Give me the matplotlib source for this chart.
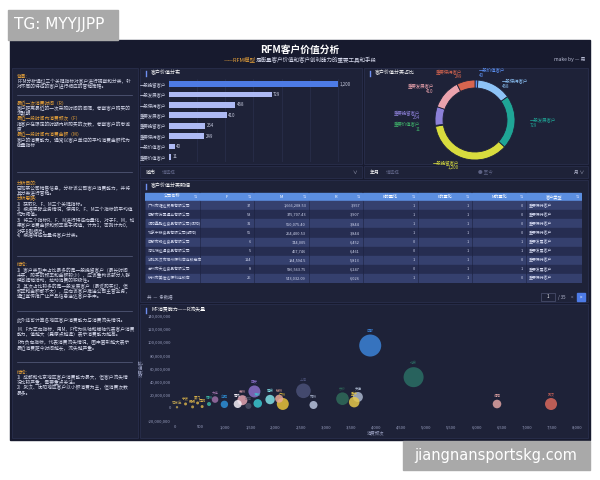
import math
import matplotlib
matplotlib.use('Agg')
import matplotlib.pyplot as plt
from matplotlib.patches import Rectangle
from matplotlib.ticker import FuncFormatter, MultipleLocator

plt.rcParams['font.family'] = ['Noto Sans CJK SC', 'DejaVu Sans']

# ---- data ----
bar_names = ['一般挽留客户', '一般发展客户', '一般保持客户', '重要发展客户',
             '重要挽留客户', '重要保持客户', '一般价值客户', '重要价值客户']
bar_values = [1200, 729, 468, 410, 254, 249, 40, 11]

pie_order = ['一般价值客户', '一般保持客户', '一般发展客户', '一般挽留客户',
             '重要价值客户', '重要挽留客户', '重要发展客户', '重要保持客户']

table_cols = ['公司名称', 'F', 'M', 'R', 'R的量化', 'F的量化', 'M的量化', '客户类型']
companies = ['广州市耀达贸易有限公司', '成都市万国通业有限公司', '沈阳鑫鹏达食品有限公司(沈阳)',
             '北京中粮食品有限公司(朝阳)', '成都市畅达食品有限公司', '河北瑞达通食品有限公司',
             '湖北武汉市神州便利店连锁商店', '台州市天达食品有限公司', '杭州市美佳达便利连锁店']
col_f = ['37', '53', '31', '55', '6', '5', '114', '8', '26']
col_m = ['1,666,208.53', '375,707.43', '550,075.40', '264,400.53', '744,005',
         '467,746', '194,594.5', '586,563.75', '543,032.09']
col_r = ['3,957', '3,907', '3,844', '3,844', '6,452', '6,461', '5,813', '6,247', '6,026']
col_rq = ['1', '1', '1', '1', '0', '0', '1', '0', '1']
col_fq = ['1', '1', '1', '1', '1', '1', '1', '1', '1']
col_mq = ['0', '0', '0', '0', '1', '1', '0', '1', '0']
col_type = ['重要保持客户', '重要保持客户', '重要保持客户', '重要保持客户', '重要发展客户',
            '重要发展客户', '重要保持客户', '重要发展客户', '重要保持客户']

cities = ['成都', '北京', '上海', '沈阳', '武汉', '长沙', '天津', '重庆', '郑州', '广州',
          '杭州', '南京', '深圳', '西安', '苏州', '青岛', '济南', '合肥', '大连', '福州',
          '厦门', '昆明', '无锡', '宁波', '石家庄']
freq = [3885, 4748, 2556, 6408, 7483, 3333, 3639, 3566, 2756, 2145, 2072, 1892, 1647,
        1580, 1341, 1248, 1461, 983, 797, 677, 450, 540, 350, 210, 40]
amount = [95.0, 46.8, 26.0, 5.9, 5.9, 14.0, 16.6, 8.8, 4.4, 6.0, 14.0, 12.7, 6.8,
          25.0, 11.7, 5.9, 2.9, 5.4, 12.7, 5.9, 7.5, 2.0, 1.5, 6.0, 1.0]  # 百万
recency = [6050, 5000, 2660, 920, 1800, 1980, 1250, 1400, 800, 1800, 800, 1100, 920,
           1800, 1250, 800, 450, 680, 540, 200, 110, 110, 110, 110, 70]

W, H = 600, 480
BG = '#171a2e'
PANEL = '#1e2238'
EDGE = '#2c3150'
TXT = '#d6d9ec'
ORANGE = '#e8a23a'


def P(x, y, w, h):
    return [x / W, 1 - (y + h) / H, w / W, h / H]


def wrap(s, width=24.5):
    lines, cur, n = [], '', 0
    for ch in s:
        w = 1 if ord(ch) > 0x2e80 else 0.55
        if n + w > width:
            lines.append(cur)
            cur, n = '', 0
        cur += ch
        n += w
    if cur:
        lines.append(cur)
    return lines


fig = plt.figure(figsize=(6, 4.8), dpi=100, facecolor='white')
bg = fig.add_axes([0, 0, 1, 1])
bg.set_xlim(0, W)
bg.set_ylim(H, 0)
bg.axis('off')

# dashboard frame and panels
bg.add_patch(Rectangle((10, 40), 580, 400, color=BG))
for x, y, w, h in [(12, 68, 126, 370), (140, 68, 222, 96), (364, 68, 224, 96),
                   (140, 166, 222, 12), (364, 166, 224, 12), (140, 180, 448, 122),
                   (140, 304, 448, 134)]:
    bg.add_patch(Rectangle((x, y), w, h, facecolor=PANEL, edgecolor=EDGE, lw=0.5))

# watermarks
bg.add_patch(Rectangle((8, 10), 110, 30, color='#a9a9a9'))
bg.text(14, 25, 'TG: MYYJJPP', color='white', fontsize=11, va='center', family='DejaVu Sans')
bg.add_patch(Rectangle((403, 441), 187, 29, color='#a9a9a9'))
bg.text(496, 455.5, 'jiangnansportskg.com', color='white', fontsize=10.5,
        ha='center', va='center', family='DejaVu Sans')

# header
bg.text(300, 50, 'RFM客户价值分析', color='white', fontsize=7, fontweight='bold',
        ha='center', va='center')
bg.text(256, 59.5, '——RFM模型', color=ORANGE, fontsize=4, ha='right', va='center')
bg.text(256, 59.5, '是衡量客户价值和客户创利能力的重要工具和手段', color=TXT, fontsize=4,
        ha='left', va='center')
bg.text(585, 60, 'make by — 易', color='#b8bcd4', fontsize=3.6, ha='right', va='center')

# left text panel
groups = [
    (76, [('h', '背景:'),
          ('p', 'RFM分析通过三个关键指标对客户进行观察和分类，针对不同的特征的客户进行相应的营销策略。')]),
    (103, [('h', '最近一次消费时间（R）'),
           ('p', '客户距离最近的一次采购时间的间隔，考察客户购买的沉默期'),
           ('h', '最近一段时间内消费频次（F）'),
           ('p', '指客户在限定的时期内所购买的次数，考察客户的忠诚度'),
           ('h', '最近一段时间内消费金额（M）'),
           ('p', '客户的消费能力，通常以客户单词的平均消费金额作为衡量指标')]),
    (183, [('h', '分析目的:'),
           ('p', '已知某公司销售信息，分析该公司客户消费能力，并将其分类进行营销。'),
           ('h', '分析思路:'),
           ('p', '1）获取R、F、M三个关键指标。'),
           ('p', '2）根据实际业务情况，使用R、F、M三个指标的平均值作为阈值。'),
           ('p', '3）将三个指标R、F、M进行特征向量化，对于F、M，如果客户消费金额和频率高于阈值，计为1，否则计为0，对于R则相反。'),
           ('p', '4）根据特征向量将客户分类。')]),
    (265, [('h', '结论:'),
           ('p', '1）客户类型中占比最多的是一般挽留客户（最长时间未买，购买的频率和金额较少），应该重构该部分人群概念提销活动，拉动消费的积极性。'),
           ('p', '2）其次占比较多的是一般发展客户（最近购买过，但频率和金额都不大），应向该客户推送公司主营业务，通过宣传推广让产品信息送达客户手中。')]),
    (321, [('p', '此外还可计算各地区客户消费能力与消费流失情况。'),
           ('g', ''),
           ('p', 'M、F为正向指标，用M、F作为纵轴和横轴代表客户消费能力，值越大（靠原点越远）表示消费能力越高。'),
           ('g', ''),
           ('p', 'R为负向指标，代表消费流失情况，图中圆形越大表示最近消费距今时间越长，流失越严重。')]),
    (372, [('h', '结论:'),
           ('p', '1）成都和北京地区客户消费能力最大，但客户流失情况比较严重，需要重点关注。'),
           ('p', '2）武汉、沈阳地区客户以小额消费为主，但消费次数最多。')]),
]
step = 5.3
for y0, items in groups:
    y = y0
    for kind, s in items:
        if kind == 'g':
            y += 3
            continue
        for line in wrap(s):
            bg.text(17, y, line, color=ORANGE if kind == 'h' else TXT, fontsize=3.4,
                    va='center')
            y += step
for ys in [95, 172, 256, 311, 362]:
    bg.plot([17, 132], [ys, ys], color='#5a6080', lw=0.5)

# panel titles
for x, y, s in [(146, 73, '客户价值分布'), (370, 73, '客户价值分类占比'),
                (146, 186, '客户价值分类明细'), (146, 310, 'MF消费能力——R流失量')]:
    bg.plot([x, x], [y - 2.5, y + 2.5], color='#6f8ff0', lw=1)
    bg.text(x + 5, y, s, color='white', fontsize=3.6, va='center')

# filter row
bg.text(146, 172, '城市', color='white', fontsize=3.6, va='center')
bg.text(162, 172, '请选择', color='#5d6284', fontsize=3.3, va='center')
bg.text(357, 172, '∨', color='#b8bcd4', fontsize=3.3, va='center', ha='right')
bg.text(370, 172, '年月', color='white', fontsize=3.6, va='center')
bg.text(386, 172, '请选择', color='#5d6284', fontsize=3.3, va='center')
bg.text(478, 172, '● 至今', color='#5d6284', fontsize=3.3, va='center')
bg.text(584, 172, '月 ∨', color='#b8bcd4', fontsize=3.3, va='center', ha='right')

# ---- bar chart ----
ax = fig.add_axes(P(169, 79, 190, 83))
ax.set_facecolor('none')
colors = ['#4d7be6'] + ['#aebaf4'] * (len(bar_values) - 1)
ax.barh(range(len(bar_values)), bar_values, height=0.55, color=colors, zorder=2)
for i, v in enumerate(bar_values):
    ax.text(v + 12, i, f'{v:,}', color='#c8cce0', fontsize=3.2, va='center')
ax.set_yticks(range(len(bar_names)))
ax.set_yticklabels(bar_names, fontsize=3.2, color='#c8cce0')
ax.set_ylim(len(bar_values) - 0.5, -0.5)
ax.set_xlim(0, 1350)
ax.xaxis.set_major_locator(MultipleLocator(200))
ax.grid(axis='x', color='#2e3352', lw=0.4, zorder=0)
ax.tick_params(length=0, pad=2)
ax.set_xticklabels([])
for sp in ax.spines.values():
    sp.set_visible(False)

# ---- donut ----
pie_colors = {'一般价值客户': '#5b8ff0', '一般保持客户': '#8dc3f7', '一般发展客户': '#1fa596',
              '一般挽留客户': '#d8dc3e', '重要价值客户': '#3fb36a', '重要挽留客户': '#8c80d8',
              '重要发展客户': '#eba3ad', '重要保持客户': '#d7654f'}
# small nudges so the labels of the thin slices at the top do not collide
label_nudge = {'一般价值客户': (0.05, 0.0, 'left'), '一般保持客户': (0.0, -0.12, 'left')}
lookup = dict(zip(bar_names, bar_values))
pv = [lookup[n] for n in pie_order]
ax = fig.add_axes(P(425, 70, 100, 100))
ax.set_xlim(-1.5, 1.5)
ax.set_ylim(-1.5, 1.5)
ax.set_aspect('equal')
ax.axis('off')
ax.pie(pv, colors=[pie_colors[n] for n in pie_order], startangle=90,
       counterclock=False, radius=1,
       wedgeprops=dict(width=0.2, edgecolor=PANEL, linewidth=0.6))
tot = sum(pv)
cum = 0
for n, v in zip(pie_order, pv):
    mid = 90 - (cum + v / 2) / tot * 360
    cum += v
    xx = 1.38 * math.cos(math.radians(mid))
    yy = 1.18 * math.sin(math.radians(mid))
    ha = 'left' if xx > 0.15 else ('right' if xx < -0.15 else 'center')
    if n in label_nudge:
        dx, dy, ha = label_nudge[n]
        xx, yy = xx + dx, yy + dy
    ax.text(xx, yy, f'{n}\n{v:,}', color=pie_colors[n], fontsize=3.2, ha=ha,
            va='center', linespacing=1.1, clip_on=False)

# ---- table ----
edges = [0, 55, 109, 164, 218, 273, 327, 381, 437]
ax = fig.add_axes(P(145, 192, 437, 91))
ax.set_xlim(0, 437)
ax.set_ylim(len(companies) + 1, 0)
ax.axis('off')
rows = list(zip(companies, col_f, col_m, col_r, col_rq, col_fq, col_mq, col_type))
for j, name in enumerate(table_cols):
    ax.add_patch(Rectangle((edges[j], 0.08), edges[j + 1] - edges[j] - 0.6, 0.84,
                           color='#5b8ee0'))
    ax.text((edges[j] + edges[j + 1]) / 2, 0.5, name, color='white', fontsize=3.0,
            ha='center', va='center')
    ax.text(edges[j + 1] - 3, 0.5, '⇅', color='#dfe6ff', fontsize=2.8, ha='right',
            va='center', family='DejaVu Sans')
for i, row in enumerate(rows):
    fc = '#35406e' if i % 2 == 0 else '#262d51'
    ax.add_patch(Rectangle((0, i + 1), 437, 1, color=fc))
    for j, val in enumerate(row):
        ax.plot([edges[j], edges[j]], [i + 1, i + 2], color='#1c2240', lw=0.4)
        if j in (0, 7):
            ax.text(edges[j] + 2.5, i + 1.5, val, color='#d4d9f0', fontsize=2.8,
                    ha='left', va='center')
        else:
            ax.text(edges[j + 1] - 3, i + 1.5, val, color='#d4d9f0', fontsize=2.8,
                    ha='right', va='center')
bg.text(147, 297, '共  —  条数据', color='#b8bcd4', fontsize=3.2, va='center')
bg.add_patch(Rectangle((541, 293), 14, 8, facecolor=PANEL, edgecolor='#5a6080', lw=0.4))
bg.text(548, 297, '1', color='white', fontsize=3.2, ha='center', va='center')
bg.text(558, 297, '/ 35', color='#b8bcd4', fontsize=3.2, va='center')
bg.text(571, 297, '<', color='#8a8fb0', fontsize=3.2, va='center')
bg.add_patch(Rectangle((577, 293), 8, 8, color='#4d7be6'))
bg.text(581, 297, '>', color='white', fontsize=3.2, ha='center', va='center')

# ---- bubble chart ----
bub_colors = ['#3b82d6', '#2a6e64', '#4a5077', '#e0a3a3', '#d9685c', '#2f6b5a', '#aab6cc',
              '#e6c84a', '#b8c3dd', '#e8c23a', '#e8a898', '#7fe0e6', '#3ac7cf', '#8a6fc9',
              '#e3a3b0', '#f3eef6', '#4a4f66', '#2d8fd6', '#9b6fa6', '#39b3a0', '#d6b04a',
              '#d6b04a', '#c9a64a', '#d6b04a', '#bba050']
ax = fig.add_axes(P(175, 316, 402, 105))
ax.set_facecolor('none')
sizes = [r * 0.0415 for r in recency]
ax.scatter(freq, [a * 1e6 for a in amount], s=sizes, c=bub_colors, alpha=0.85,
           linewidths=0, zorder=3)
for c, fx, a, s, col in zip(cities, freq, amount, sizes, bub_colors):
    ax.annotate(c, (fx, a * 1e6), xytext=(0, s ** 0.5 / 2 + 1.2), textcoords='offset points',
                color=col, fontsize=2.5, ha='center', va='bottom')
ax.set_xlim(0, 8000)
ax.set_ylim(-20e6, 140e6)
ax.xaxis.set_major_locator(MultipleLocator(500))
ax.yaxis.set_major_locator(MultipleLocator(20e6))
ax.xaxis.set_major_formatter(FuncFormatter(lambda v, _: f'{v:,.0f}'))
ax.yaxis.set_major_formatter(FuncFormatter(lambda v, _: f'{v:,.0f}'))
ax.tick_params(colors='#9aa0c0', labelsize=3.0, length=0, pad=3)
for sp in ax.spines.values():
    sp.set_visible(False)
ax.set_xlabel('消费频次', color='#9aa0c0', fontsize=3.2, labelpad=1)
ax.set_ylabel('消费金额', color='#9aa0c0', fontsize=3.2, labelpad=2)

fig.savefig('out.png', dpi=100, facecolor='white')
